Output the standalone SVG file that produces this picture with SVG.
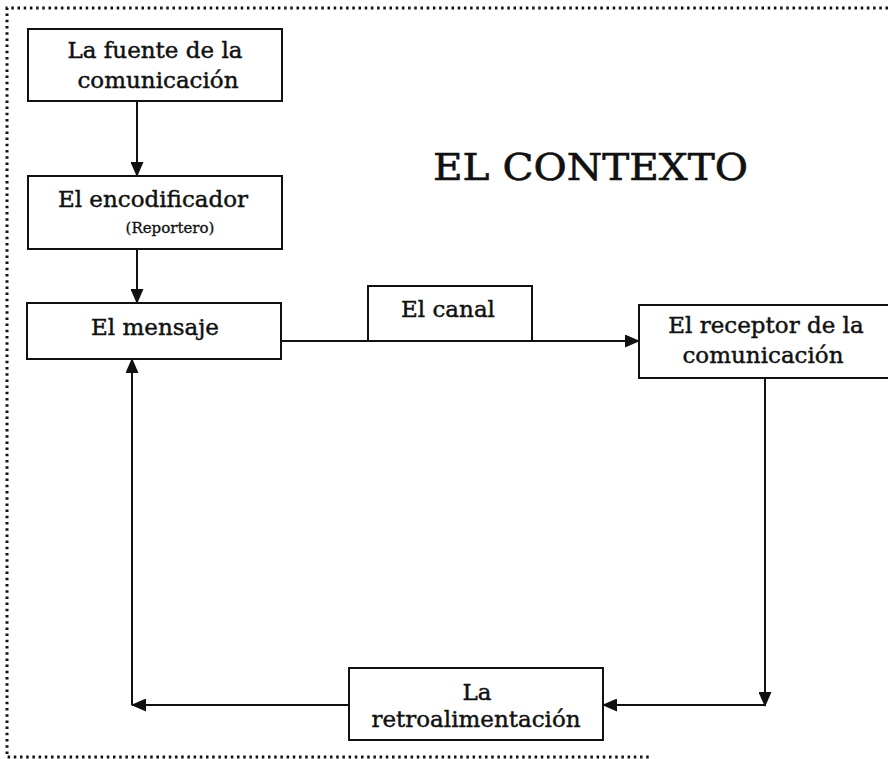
<svg xmlns="http://www.w3.org/2000/svg" width="888" height="759" viewBox="0 0 888 759">
<style>
.box{fill:#fff;stroke:#111;stroke-width:2}
.t{font-family:"DejaVu Serif","Liberation Serif",serif;font-size:23px;fill:#111;stroke:#111;stroke-width:0.45;text-anchor:middle}
.s{font-family:"DejaVu Serif","Liberation Serif",serif;font-size:15px;fill:#111;stroke:#111;stroke-width:0.3;text-anchor:middle}
.ttl{font-family:"DejaVu Serif","Liberation Serif",serif;font-size:38px;fill:#111;stroke:#111;stroke-width:0.6}
.c{stroke:#111;stroke-width:2;fill:none}
.dot{stroke:#111;stroke-width:3;stroke-dasharray:2.5 3.7;fill:none}
</style>
<defs>
<marker id="ah" markerWidth="15" markerHeight="13" refX="14" refY="6.5" orient="auto" markerUnits="userSpaceOnUse">
<path d="M0,0 L15,6.5 L0,13 Z" fill="#111"/>
</marker>
</defs>
<g id="border">
<path class="dot" d="M888,8 L7,8 L7,757 L650,757"/>
</g>
<text class="ttl" x="433" y="180" textLength="315" lengthAdjust="spacingAndGlyphs">EL CONTEXTO</text>
<g id="connectors">
<line class="c" x1="137" y1="101" x2="137" y2="176" marker-end="url(#ah)"/>
<line class="c" x1="137" y1="249" x2="137" y2="303" marker-end="url(#ah)"/>
<line class="c" x1="281" y1="341" x2="639" y2="341" marker-end="url(#ah)"/>
<line class="c" x1="765" y1="378" x2="765" y2="706" marker-end="url(#ah)"/>
<line class="c" x1="765" y1="705" x2="603" y2="705" marker-end="url(#ah)"/>
<line class="c" x1="349" y1="705" x2="132" y2="705" marker-end="url(#ah)"/>
<line class="c" x1="132" y1="705" x2="132" y2="359" marker-end="url(#ah)"/>
</g>
<g id="fuente">
<rect class="box" x="28" y="29" width="254" height="72"/>
<text class="t" x="155" y="58">La fuente de la</text>
<text class="t" x="158" y="88">comunicación</text>
</g>
<g id="encodificador">
<rect class="box" x="28" y="176" width="254" height="73"/>
<text class="t" x="153" y="207">El encodificador</text>
<text class="s" x="170" y="233">(Reportero)</text>
</g>
<g id="mensaje">
<rect class="box" x="27" y="303" width="254" height="56"/>
<text class="t" x="155" y="335">El mensaje</text>
</g>
<g id="canal">
<rect class="box" x="368" y="286" width="164" height="55"/>
<text class="t" x="448" y="317">El canal</text>
</g>
<g id="receptor">
<rect class="box" x="639" y="305" width="260" height="73"/>
<text class="t" x="766" y="333">El receptor de la</text>
<text class="t" x="763" y="363">comunicación</text>
</g>
<g id="retroalimentacion">
<rect class="box" x="349" y="668" width="254" height="72"/>
<text class="t" x="477" y="700">La</text>
<text class="t" x="476" y="727">retroalimentación</text>
</g>
</svg>
